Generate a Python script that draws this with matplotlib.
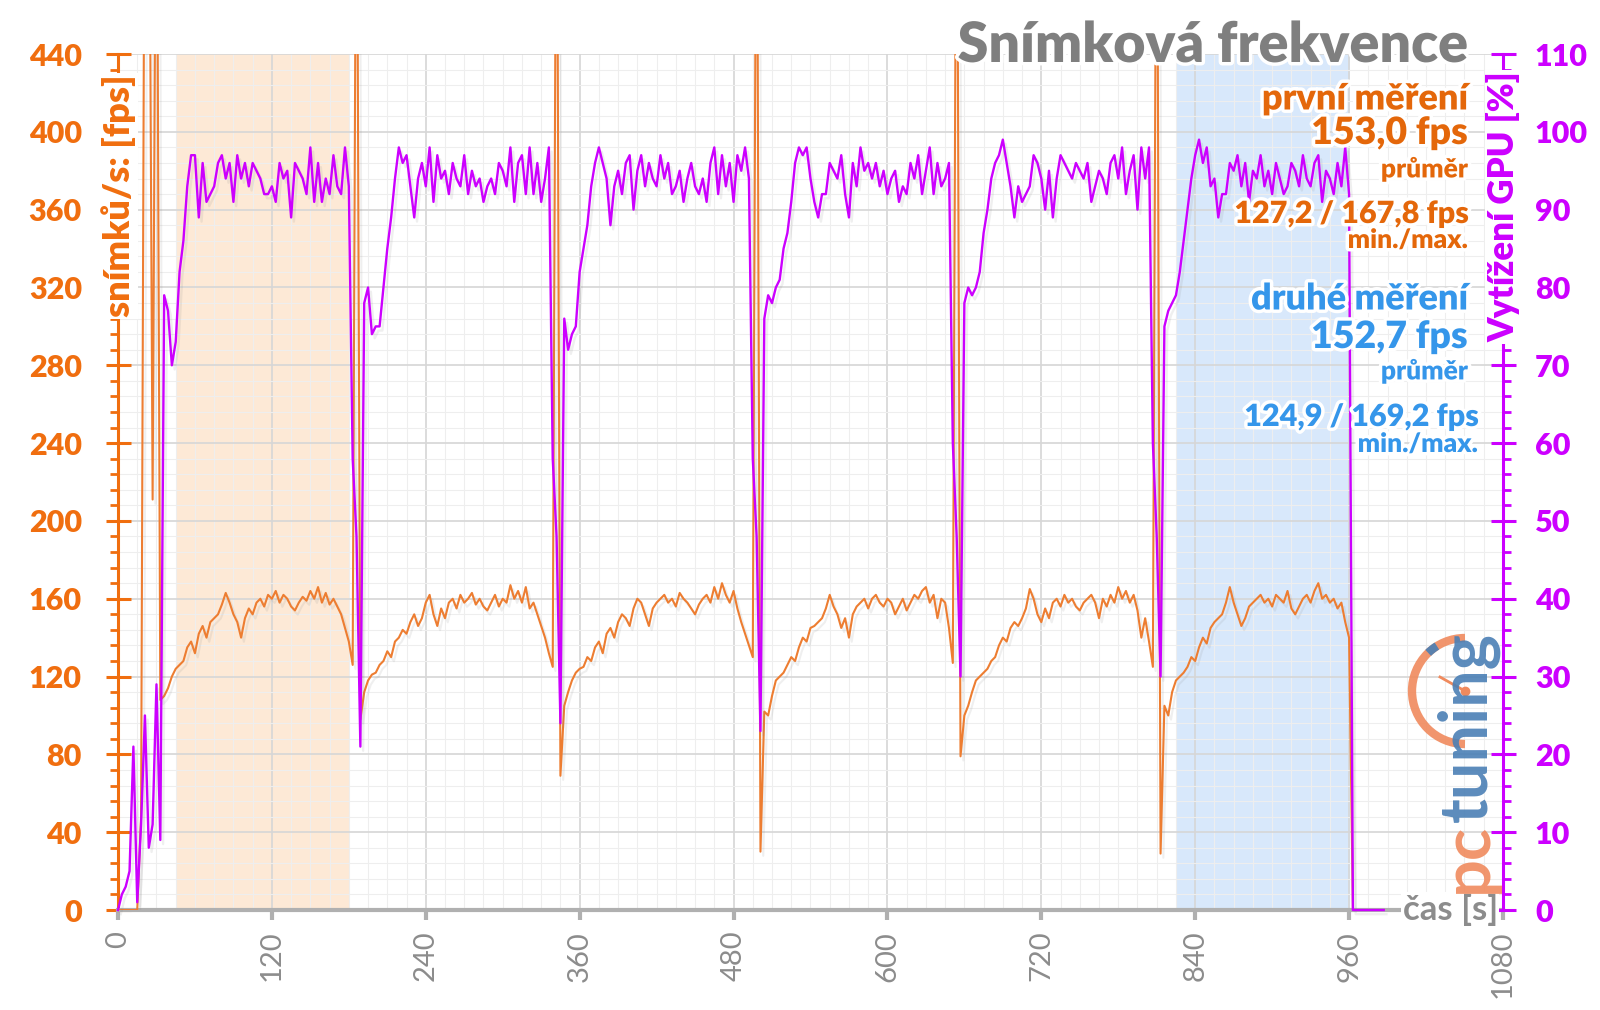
import numpy as np
import matplotlib
matplotlib.use('Agg')
import matplotlib.pyplot as plt
import matplotlib.patheffects as pe
from matplotlib.patches import Arc
from matplotlib.lines import Line2D

plt.rcParams['font.family'] = ['Lato', 'DejaVu Sans']

# sampling grid of the log (one sample every 3 s)
time_s = np.arange(0, 990, 3)

# fps (left axis), per part of the log
fps_start = [0, 0, 0, 0, 0, 0, 48, 600, 600, 211, 600, 108]
fps_run1 = [110, 114, 120, 124, 126, 128, 135, 138, 132, 142, 146, 140, 148, 150, 152, 157, 163, 158, 152, 148,
            140, 150, 155, 152, 158, 160, 156, 162, 160, 164, 158, 162, 160, 156, 154, 158, 161, 159, 164, 160,
            166, 158, 163, 157, 160, 156, 152, 145, 138, 126]
fps_run2 = [600, 98, 112, 118, 121, 122, 126, 128, 133, 130, 138, 140, 144, 142, 148, 152, 146, 150, 158, 162,
            152, 146, 155, 150, 158, 160, 155, 162, 158, 160, 163, 157, 160, 156, 154, 158, 162, 156, 160, 158,
            167, 160, 164, 158, 166, 155, 158, 152, 146, 140, 132, 125]
fps_run3 = [600, 69, 105, 112, 118, 122, 124, 125, 130, 128, 135, 138, 132, 142, 145, 140, 148, 152, 150, 146,
            155, 160, 158, 152, 146, 155, 158, 160, 162, 158, 160, 156, 163, 160, 158, 155, 152, 157, 160, 162,
            158, 166, 160, 168, 162, 158, 164, 155, 148, 142, 136, 130]
fps_run4 = [600, 30, 102, 100, 110, 118, 120, 122, 126, 130, 128, 135, 140, 138, 145, 146, 148, 150, 155, 162,
            156, 152, 145, 150, 140, 152, 156, 158, 160, 155, 160, 162, 158, 156, 160, 158, 152, 156, 160, 154,
            158, 162, 160, 164, 166, 158, 162, 150, 160, 158, 145, 127]
fps_run5 = [600, 79, 100, 105, 112, 118, 120, 122, 124, 128, 130, 136, 140, 138, 145, 148, 146, 150, 155, 165,
            160, 152, 148, 155, 150, 158, 160, 156, 162, 158, 160, 156, 154, 158, 160, 162, 158, 150, 160, 156,
            162, 158, 166, 160, 164, 158, 162, 154, 140, 150, 138, 125]
fps_run6 = [600, 29, 105, 100, 112, 118, 120, 122, 125, 130, 128, 135, 140, 137, 145, 148, 150, 152, 158, 166,
            158, 152, 146, 150, 156, 158, 160, 162, 158, 160, 156, 162, 160, 158, 164, 155, 152, 156, 160, 162,
            158, 164, 168, 160, 162, 158, 160, 155, 158, 148, 140]
fps_end = [0, 0, 0, 0, 0, 0, 0, 0, 0]

# GPU load in % (right axis)
gpu_start = [0, 2, 3, 5, 21, 1, 11, 25, 8, 11, 29, 9]
gpu_run1 = [79, 77, 70, 73, 82, 86, 93, 97, 97, 89, 96, 91, 92, 93, 96, 97, 94, 96, 91, 97,
            94, 96, 93, 96, 95, 94, 92, 92, 93, 91, 96, 94, 95, 89, 96, 95, 94, 92, 98, 91,
            96, 91, 94, 92, 97, 93, 92, 98, 93, 58]
gpu_run2 = [48, 21, 78, 80, 74, 75, 75, 80, 85, 89, 94, 98, 96, 97, 93, 89, 94, 96, 93, 98,
            91, 97, 94, 95, 92, 96, 94, 93, 97, 92, 95, 93, 94, 91, 93, 94, 92, 96, 95, 93,
            98, 91, 96, 97, 92, 98, 92, 96, 91, 94, 98, 58]
gpu_run3 = [48, 24, 76, 72, 74, 75, 82, 85, 88, 93, 96, 98, 96, 94, 88, 93, 95, 92, 96, 97,
            90, 95, 97, 93, 96, 94, 93, 97, 94, 96, 92, 93, 95, 91, 94, 96, 93, 92, 94, 91,
            96, 98, 92, 97, 93, 96, 91, 97, 95, 98, 94, 58]
gpu_run4 = [48, 23, 76, 79, 78, 80, 81, 85, 87, 91, 96, 98, 97, 98, 94, 91, 89, 92, 92, 96,
            95, 94, 97, 92, 89, 96, 93, 98, 95, 96, 94, 96, 93, 95, 92, 94, 95, 91, 93, 92,
            96, 94, 97, 92, 95, 98, 92, 96, 93, 94, 96, 60]
gpu_run5 = [48, 30, 78, 80, 79, 80, 82, 87, 90, 94, 96, 97, 99, 96, 93, 89, 93, 91, 92, 93,
            97, 96, 94, 90, 95, 89, 94, 97, 96, 95, 94, 96, 95, 94, 96, 91, 93, 95, 94, 92,
            96, 97, 94, 98, 92, 95, 97, 90, 98, 94, 98, 60]
gpu_run6 = [48, 30, 75, 77, 78, 79, 82, 86, 90, 94, 97, 99, 96, 98, 93, 94, 89, 92, 92, 96,
            95, 97, 93, 96, 91, 95, 94, 97, 93, 95, 92, 96, 94, 92, 93, 96, 95, 93, 97, 94,
            93, 96, 97, 91, 95, 94, 92, 96, 93, 98, 92]
gpu_end = [0, 0, 0, 0, 0, 0, 0, 0, 0]

# measured intervals (s)
first_span = (46, 181)
second_span = (825, 961)

x_ticks = np.arange(0, 1081, 120)
fps_ticks = np.arange(0, 441, 40)
gpu_ticks = np.arange(0, 111, 10)

ORANGE_AX = '#f06e0f'
ORANGE_LINE = '#ed7d31'
ORANGE_TXT = '#e4670a'
BLUE_TXT = '#3596ea'
MAGENTA = '#cc00ff'
GRAY = '#8c8c8c'
BOLD = 'heavy'

fps = np.concatenate([fps_start, fps_run1, fps_run2, fps_run3, fps_run4, fps_run5, fps_run6, fps_end])
gpu = np.concatenate([gpu_start, gpu_run1, gpu_run2, gpu_run3, gpu_run4, gpu_run5, gpu_run6, gpu_end])

glow = [pe.withStroke(linewidth=5, foreground='white')]
shadow = [pe.SimpleLineShadow(offset=(2, -3), shadow_color='#808080', alpha=0.12), pe.Normal()]

fig = plt.figure(figsize=(16, 10.1), dpi=100)
ax = fig.add_axes([0.07375, 0.099, 0.8656, 0.8475])
ax2 = ax.twinx()

ax.axvspan(*first_span, color='#fde9d6', zorder=0, lw=0)
ax.axvspan(*second_span, color='#d8e8fb', zorder=0, lw=0)

ax.set_axisbelow(True)
ax.set_xlim(0, 1080)
ax.set_ylim(0, 440)
ax2.set_ylim(0, 110)

ax.set_xticks(x_ticks, labels=[str(v) for v in x_ticks], rotation=90, fontsize=21, color=GRAY)
ax.set_xticks(np.arange(0, 1081, 15), minor=True)
ax.set_yticks(fps_ticks, labels=[str(v) for v in fps_ticks], fontsize=22, fontweight=BOLD, color=ORANGE_AX)
ax.set_yticks(np.arange(0, 441, 8), minor=True)
ax2.set_yticks(gpu_ticks, labels=[str(v) for v in gpu_ticks], fontsize=22, fontweight=BOLD, color=MAGENTA)
ax2.set_yticks(np.arange(0, 111, 2), minor=True)

ax.grid(which='major', color='#d6d6d6', lw=1.2)
ax.grid(which='minor', color='#eeeeee', lw=0.8)

ax.tick_params(axis='x', which='major', direction='out', length=7, width=3, color='#b0b0b0', pad=8)
ax.tick_params(axis='x', which='minor', length=0)
ax.tick_params(axis='y', which='major', direction='inout', length=18, width=2.2, color=ORANGE_AX, pad=17)
ax.tick_params(axis='y', which='minor', direction='out', length=6, width=2, color=ORANGE_AX)
ax2.tick_params(axis='y', which='major', direction='inout', length=18, width=2.2, color=MAGENTA, pad=14)
ax2.tick_params(axis='y', which='minor', direction='out', length=6, width=2, color=MAGENTA)

for s in ['top', 'right']:
    ax.spines[s].set_visible(False)
for s in ['top', 'left', 'bottom']:
    ax2.spines[s].set_visible(False)
ax.spines['left'].set_color(ORANGE_AX)
ax.spines['left'].set_linewidth(2.2)
ax.spines['bottom'].set_color('#b0b0b0')
ax.spines['bottom'].set_linewidth(3)
ax2.spines['right'].set_color(MAGENTA)
ax2.spines['right'].set_linewidth(2.2)

ax.plot(time_s, fps, color=ORANGE_LINE, lw=1.5, path_effects=shadow, zorder=3)
ax2.plot(time_s, gpu, color=MAGENTA, lw=1.7, path_effects=shadow, zorder=3, clip_on=False)

# axis labels sitting on the spines
fig.text(119 / 1600, 1 - 196 / 1010, 'snímků/s: [fps]', rotation=90, ha='center', va='center',
         fontsize=26, fontweight=BOLD, color=ORANGE_AX, zorder=10,
         bbox=dict(facecolor='white', edgecolor='none', pad=1))
fig.text(1503 / 1600, 1 - 207 / 1010, 'Vytížení GPU [%]', rotation=90, ha='center', va='center',
         fontsize=25, fontweight=BOLD, color=MAGENTA, zorder=10,
         bbox=dict(facecolor='white', edgecolor='none', pad=1))
ax2.text(1076, 0, 'čas [s]', ha='right', va='center', fontsize=25, fontweight='bold', color=GRAY, zorder=10,
         bbox=dict(facecolor='white', edgecolor='none', pad=1))

fig.text(1468 / 1600, 1 - 45 / 1010, 'Snímková frekvence', ha='right', va='center',
         fontsize=40, fontweight=BOLD, color='#7f7f7f', path_effects=glow)

notes = [
    ('první měření', 99, 26, ORANGE_TXT, 1468),
    ('153,0 fps', 133, 27, ORANGE_TXT, 1468),
    ('průměr', 169, 19, ORANGE_TXT, 1468),
    ('127,2 / 167,8 fps', 214, 22, ORANGE_TXT, 1468),
    ('min./max.', 240, 19, ORANGE_TXT, 1468),
    ('druhé měření', 299, 26, BLUE_TXT, 1468),
    ('152,7 fps', 337, 27, BLUE_TXT, 1468),
    ('průměr', 371, 19, BLUE_TXT, 1468),
    ('124,9 / 169,2 fps', 417, 22, BLUE_TXT, 1478),
    ('min./max.', 444, 19, BLUE_TXT, 1478),
]
for txt, ypx, size, col, xpx in notes:
    fig.text(xpx / 1600, 1 - ypx / 1010, txt, ha='right', va='center', fontsize=size,
             fontweight=BOLD, color=col, path_effects=glow, zorder=6)

# pctuning watermark
fig.add_artist(Arc((14.65, 3.19), 1.06, 1.06, theta1=90, theta2=270, transform=fig.dpi_scale_trans,
                   color='#f08a5d', lw=6, alpha=0.9))
fig.add_artist(Arc((14.65, 3.19), 1.06, 1.06, theta1=122, theta2=134, transform=fig.dpi_scale_trans,
                   color='#4a7fb5', lw=6, alpha=0.9))
fig.add_artist(Line2D([14.40, 14.65], [3.33, 3.19], transform=fig.dpi_scale_trans,
                      color='#f08a5d', lw=2, marker='o', markevery=[1], markersize=6))
fig.text(1468 / 1600, 1 - 893 / 1010, 'pc', rotation=90, ha='center', va='bottom',
         fontsize=48, fontweight='bold', color='#f08a5d', alpha=0.9)
fig.text(1468 / 1600, 1 - 822 / 1010, 'tuning', rotation=90, ha='center', va='bottom',
         fontsize=48, fontweight='bold', color='#4a7fb5', alpha=0.9)

fig.savefig('out.png', dpi=100, facecolor='white')
